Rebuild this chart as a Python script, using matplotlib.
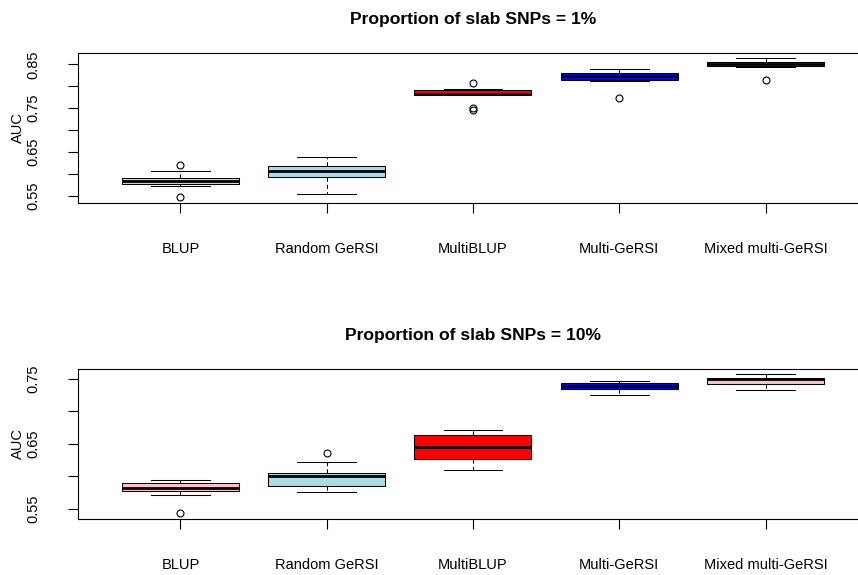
import matplotlib
matplotlib.use("Agg")
import matplotlib.pyplot as plt
import matplotlib.ticker as mticker

plt.rcParams['font.family'] = ['Liberation Sans', 'DejaVu Sans']

methods = ["BLUP", "Random GeRSI", "MultiBLUP", "Multi-GeRSI", "Mixed multi-GeRSI"]
box_colors = ["pink", "#a8dde6", "red", "blue", "pink"]

# Summary statistics of AUC for each method, 1% slab SNPs
q1_1 = [0.576, 0.592, 0.7799, 0.8135, 0.847]
med_1 = [0.583, 0.606, 0.7826, 0.8226, 0.851]
q3_1 = [0.590, 0.618, 0.7913, 0.8301, 0.8545]
lo_1 = [0.5715, 0.553, 0.7795, 0.8115, 0.843]
hi_1 = [0.607, 0.639, 0.7929, 0.8386, 0.8637]
out_1 = [[0.620, 0.547], [], [0.808, 0.750, 0.745], [0.773], [0.8134]]

# Same for 10% slab SNPs
q1_10 = [0.577, 0.586, 0.627, 0.7337, 0.7423]
med_10 = [0.582, 0.600, 0.6447, 0.7383, 0.7491]
q3_10 = [0.5895, 0.605, 0.664, 0.7429, 0.7516]
lo_10 = [0.571, 0.576, 0.610, 0.7255, 0.7332]
hi_10 = [0.5945, 0.6226, 0.6717, 0.746, 0.7568]
out_10 = [[0.544], [0.6364], [], [], []]

yticks_1 = [0.55, 0.60, 0.65, 0.70, 0.75, 0.80, 0.85]
yticks_10 = [0.55, 0.60, 0.65, 0.70, 0.75]


def make_stats(q1, med, q3, lo, hi, out):
    return [dict(q1=a, med=b, q3=c, whislo=d, whishi=e, fliers=f)
            for a, b, c, d, e, f in zip(q1, med, q3, lo, hi, out)]


def draw_panel(ax, stats, title, yticks, ylim):
    bp = ax.bxp(stats, positions=range(1, 6), widths=0.8, patch_artist=True,
                boxprops=dict(edgecolor="black", linewidth=0.75),
                medianprops=dict(color="black", linewidth=2.0, solid_capstyle="butt"),
                whiskerprops=dict(color="black", linewidth=0.75, linestyle=(0, (4, 3))),
                capprops=dict(color="black", linewidth=0.75),
                flierprops=dict(marker="o", markerfacecolor="none", markeredgecolor="black",
                                markersize=5, markeredgewidth=0.8),
                capwidths=0.4)
    for patch, c in zip(bp["boxes"], box_colors):
        patch.set_facecolor(c)

    ax.set_xlim(0.3, 5.7)
    ax.set_ylim(*ylim)
    ax.set_xticks(range(1, 6))
    ax.set_xticklabels(methods, fontsize=10.5)
    ax.yaxis.set_major_locator(mticker.FixedLocator(yticks))
    ax.yaxis.set_major_formatter(mticker.FixedFormatter(
        [f"{v:.2f}" if i % 2 == 0 else "" for i, v in enumerate(yticks)]))
    ax.tick_params(axis="x", length=7, width=0.8, pad=21)
    ax.tick_params(axis="y", length=7, width=0.8, pad=20, labelsize=10.5)
    for lab in ax.get_yticklabels():
        lab.set_rotation(90)
        lab.set_va("center")
    for sp in ax.spines.values():
        sp.set_linewidth(0.8)
    ax.set_ylabel("AUC", fontsize=10.5)
    ax.yaxis.set_label_coords(-0.067, 0.5)
    ax.text(0.5, 1.225, title, transform=ax.transAxes, ha="center", va="center",
            fontsize=12.6, fontweight="bold")


fig = plt.figure(figsize=(8.58, 5.75), dpi=100)
ax1 = fig.add_axes([0.0909, 0.6470, 0.9207, 0.2609])
ax2 = fig.add_axes([0.0909, 0.0979, 0.9207, 0.2603])

draw_panel(ax1, make_stats(q1_1, med_1, q3_1, lo_1, hi_1, out_1),
           "Proportion of slab SNPs = 1%", yticks_1, (0.533, 0.876))
draw_panel(ax2, make_stats(q1_10, med_10, q3_10, lo_10, hi_10, out_10),
           "Proportion of slab SNPs = 10%", yticks_10, (0.535, 0.765))

fig.savefig("out.png", dpi=100)
